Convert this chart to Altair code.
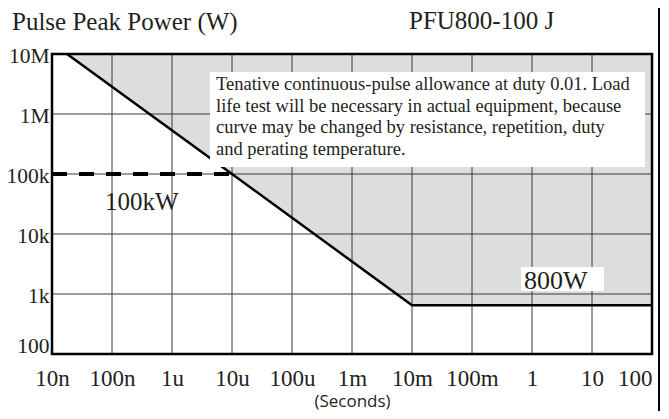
import json
import altair as alt
import pandas as pd

# ---- data ----
x_ticks = [1e-8, 1e-7, 1e-6, 1e-5, 1e-4, 1e-3, 1e-2, 1e-1, 1, 10, 100]
x_labels = ["10n", "100n", "1u", "10u", "100u", "1m", "10m", "100m", "1", "10", "100"]
y_ticks = [1e2, 1e3, 1e4, 1e5, 1e6, 1e7]
y_labels = ["100", "1k", "10k", "100k", "1M", "10M"]

curve_time = [1.78e-8, 1e-5, 1e-2, 100]
curve_power = [1e7, 1e5, 650, 650]

limit_time = [1e-8, 1e-5]
limit_power = [1e5, 1e5]

note_lines = [
    "Tenative continuous-pulse allowance at duty 0.01. Load",
    "life test will be necessary in actual equipment, because",
    "curve may be changed by resistance, repetition, duty",
    "and perating temperature.",
]
label_100kw = "100kW"
label_800w = "800W"
title_text = "Pulse Peak Power (W)"
model_text = "PFU800-100 J"
x_title = "(Seconds)"

# ---- chart ----
W, H = 600, 300
INK = "#231f20"
SERIF = "Liberation Serif"

curve_df = pd.DataFrame({"t": curve_time, "p": curve_power})
limit_df = pd.DataFrame({"t": limit_time, "p": limit_power})
xt_df = pd.DataFrame({"t": x_ticks})
yt_df = pd.DataFrame({"p": y_ticks})
one = pd.DataFrame({"k": [0]})

xs = alt.Scale(type="log", domain=[x_ticks[0], x_ticks[-1]], nice=False)
ys = alt.Scale(type="log", domain=[y_ticks[0], y_ticks[-1]], nice=False)

x_axis = alt.Axis(
    values=x_ticks,
    labelExpr=json.dumps(x_labels) + "[round(log(datum.value)/LN10)+8]",
    grid=False, domain=False, ticks=False,
    labelFont=SERIF, labelFontSize=23, labelColor=INK, labelPadding=13,
    labelOverlap=False, labelFlush=False, labelBound=False,
    labelAlign={"condition": {"test": "datum.value >= 100", "value": "right"}, "value": "center"},
    title=x_title, titleFont="Open Sans", titleFontSize=17, titleFontWeight="normal",
    titleColor=INK, titlePadding=3,
)
y_axis = alt.Axis(
    values=y_ticks,
    labelExpr=json.dumps(y_labels) + "[round(log(datum.value)/LN10)-2]",
    grid=False, domain=False, ticks=False,
    labelFont=SERIF, labelFontSize=21.5, labelColor=INK, labelPadding=3,
    labelOverlap=False, labelFlush=False, labelBound=False,
    labelBaseline={"condition": {"test": "datum.value <= 100", "value": "alphabetic"}, "value": "middle"},
    labelOffset={"condition": {"test": "datum.value <= 100", "value": -2}, "value": 2},
    title=None,
)

X = alt.X("t:Q", scale=xs, axis=x_axis)
Y = alt.Y("p:Q", scale=ys, axis=y_axis)

area = alt.Chart(curve_df).mark_area(color="#dddddd").encode(
    x=X, y=Y, y2=alt.datum(y_ticks[-1]),
)

vgrid = alt.Chart(xt_df).mark_rule(color="#3a3a3a", strokeWidth=1).encode(x=X)
hgrid = alt.Chart(yt_df).mark_rule(color="#3a3a3a", strokeWidth=1).encode(y=Y)

curve = alt.Chart(curve_df).mark_line(color="black", strokeWidth=2.5).encode(x=X, y=Y)

limit = alt.Chart(limit_df).mark_line(color="black", strokeWidth=4, strokeDash=[15, 12]).encode(
    x=X, y=Y
)

note_box = alt.Chart(one).mark_rect(color="white").encode(
    x=alt.value(158), x2=alt.value(593), y=alt.value(18), y2=alt.value(113)
)
note = alt.Chart(one).mark_text(
    align="left", baseline="alphabetic", font=SERIF, fontSize=18.5,
    lineHeight=21.5, color=INK,
).encode(x=alt.value(164), y=alt.value(36), text=alt.value(note_lines))

box800 = alt.Chart(one).mark_rect(color="white").encode(
    x=alt.value(469), x2=alt.value(552), y=alt.value(213), y2=alt.value(237)
)
txt800 = alt.Chart(one).mark_text(
    align="left", baseline="alphabetic", font=SERIF, fontSize=26, color=INK
).encode(x=alt.value(472), y=alt.value(235), text=alt.value(label_800w))

txt100k = alt.Chart(one).mark_text(
    align="left", baseline="alphabetic", font=SERIF, fontSize=25, color=INK
).encode(x=alt.value(53), y=alt.value(156), text=alt.value(label_100kw))

frame = alt.Chart(one).mark_rect(fill="transparent", stroke="black", strokeWidth=2.5).encode(
    x=alt.value(0), x2=alt.value(W), y=alt.value(0), y2=alt.value(H)
)
border = alt.Chart(one).mark_rule(color="black", strokeWidth=2).encode(
    x=alt.value(607), y=alt.value(-46), y2=alt.value(357)
)

title = alt.Chart(one).mark_text(
    align="left", baseline="alphabetic", font=SERIF, fontSize=25, color=INK
).encode(x=alt.value(-40), y=alt.value(-24), text=alt.value(title_text))
model = alt.Chart(one).mark_text(
    align="left", baseline="alphabetic", font=SERIF, fontSize=25, color=INK
).encode(x=alt.value(357), y=alt.value(-25), text=alt.value(model_text))

chart = alt.layer(
    area, vgrid, hgrid, curve, limit, note_box, note, box800, txt800,
    txt100k, frame, border, title, model,
).properties(
    width=W, height=H,
    autosize="none",
    padding={"left": 44, "top": 46, "right": 9, "bottom": 57},
    background="white",
).configure_view(stroke=None)

chart.save("out.html", embed_options={"renderer": "svg", "actions": False})
